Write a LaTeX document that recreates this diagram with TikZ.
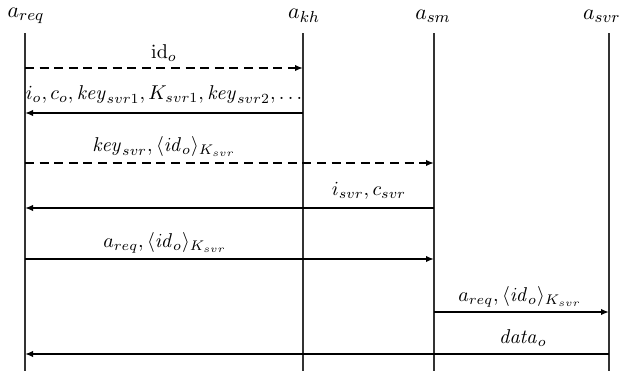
\documentclass[tikz,border=0pt]{standalone}
\usetikzlibrary{arrows.meta}
\begin{document}
\begin{tikzpicture}[x=0.5pt,y=-0.5pt,
  life/.style={line width=0.75pt, black!80},
  msg/.style={line width=1pt, -{Latex[length=4pt,width=3.2pt]}},
  dmsg/.style={msg, dash pattern=on 4.5pt off 2.8pt},
  head/.style={font=\fontsize{11.2}{13}\selectfont, inner sep=0pt},
  lbl/.style={font=\fontsize{10.4}{12}\selectfont, inner sep=0pt, anchor=base}]
\useasboundingbox (0,0) rectangle (622,371);
% lifeline heads
\node[head] (hreq) at (26,16) {$a_{req}$};
\node[head] (hkh)  at (304,16) {$a_{kh}$};
\node[head] (hsm)  at (433,16) {$a_{sm}$};
\node[head, anchor=east] (hsvr) at (621,16) {$a_{svr}$};
% lifeline ends
\coordinate (treq) at (25,33);  \coordinate (breq) at (25,371);
\coordinate (tkh)  at (303,33); \coordinate (bkh)  at (303,371);
\coordinate (tsm)  at (434,33); \coordinate (bsm)  at (434,371);
\coordinate (tsvr) at (609,33); \coordinate (bsvr) at (609,371);
\draw[life] (treq) -- (breq);
\draw[life] (tkh) -- (bkh);
\draw[life] (tsm) -- (bsm);
\draw[life] (tsvr) -- (bsvr);
% message end points
\coordinate (r1) at (25,68);  \coordinate (k1) at (303,68);
\coordinate (r2) at (25,113); \coordinate (k2) at (303,113);
\coordinate (r3) at (25,163); \coordinate (s3) at (434,163);
\coordinate (r4) at (25,208); \coordinate (s4) at (434,208);
\coordinate (r5) at (25,259); \coordinate (s5) at (434,259);
\coordinate (s6) at (434,312); \coordinate (v6) at (609,312);
\coordinate (r7) at (25,354); \coordinate (v7) at (609,354);
% messages
\draw[dmsg] (r1) -- (k1);
\draw[msg] (k2) -- (r2);
\draw[dmsg] (r3) -- (s3);
\draw[msg] (s4) -- (r4);
\draw[msg] (r5) -- (s5);
\draw[msg] (s6) -- (v6);
\draw[msg] (v7) -- (r7);
% labels
\node[lbl] (l1) at (164,58) {$\mathrm{id}_o$};
\node[lbl, font=\fontsize{9.8}{12}\selectfont] (l2) at (164,99) {$i_o, c_o, \mathit{key}_{svr1}, K_{svr1}, \mathit{key}_{svr2}, \ldots$};
\node[lbl] (l3) at (164,151) {$\mathit{key}_{svr}, \langle \mathit{id}_o\rangle_{K_{svr}}$};
\node[lbl] (l4) at (369,195) {$i_{svr}, c_{svr}$};
\node[lbl] (l5) at (165,247) {$a_{req}, \langle \mathit{id}_o\rangle_{K_{svr}}$};
\node[lbl] (l6) at (520,301) {$a_{req}, \langle \mathit{id}_o\rangle_{K_{svr}}$};
\node[lbl] (l7) at (523,343) {$\mathit{data}_o$};
\end{tikzpicture}
\end{document}
